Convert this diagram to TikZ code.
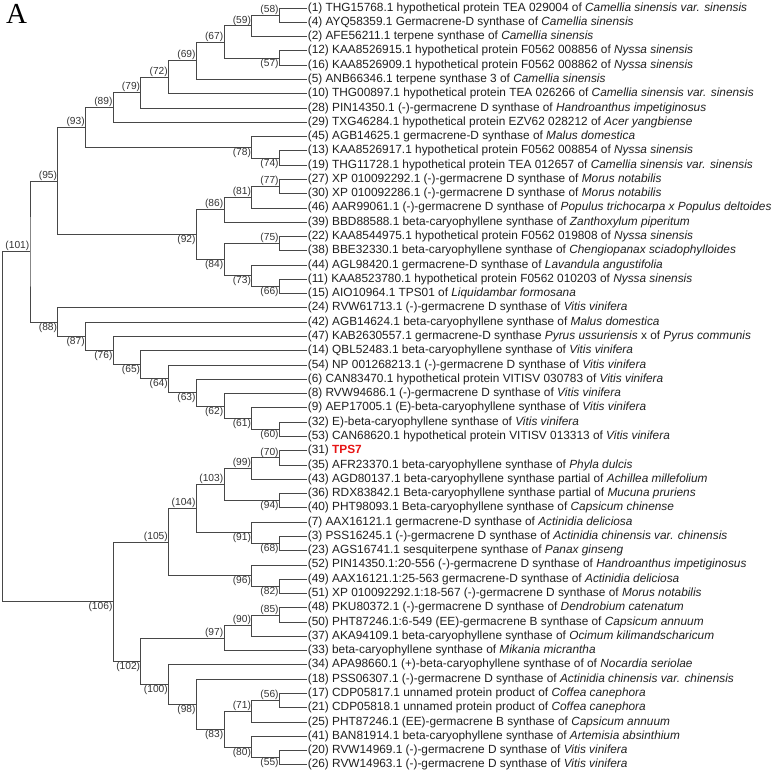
\documentclass[tikz,border=0pt]{standalone}
\usepackage{fontspec}
\setmainfont{Liberation Sans}
\newfontfamily\serifA{Liberation Serif}
\definecolor{tpsred}{RGB}{230,20,20}
\newcommand\clade[3]{\draw[br] (#2) -| (#1) |- (#3);}
\begin{document}
\begin{tikzpicture}[x=1pt,y=-14.28pt,
  br/.style={draw=black!72,line width=0.8pt},
  leaf/.style={anchor=west,inner sep=0.6pt,font=\fontsize{11.85}{14}\selectfont,text=black!88},
  bsu/.style={anchor=south east,inner sep=0.5pt,font=\fontsize{10.2}{12}\selectfont,text=black!80},
  bsl/.style={anchor=north east,inner sep=0.5pt,font=\fontsize{10.2}{12}\selectfont,text=black!80}]
\useasboundingbox (0,-0.5602) rectangle (783,53.711);
\node[anchor=north west,inner sep=0pt,font=\serifA\fontsize{29}{29}\selectfont] (A) at (6,-0.3) {A};
% leaves
\node[leaf] (l1) at (307,0) {(1) THG15768.1 hypothetical protein TEA 029004 of \textit{Camellia sinensis var. sinensis}};
\node[leaf] (l4) at (307,1) {(4) AYQ58359.1 Germacrene-D synthase of \textit{Camellia sinensis}};
\node[leaf] (l2) at (307,2) {(2) AFE56211.1 terpene synthase of \textit{Camellia sinensis}};
\node[leaf] (l12) at (307,3) {(12) KAA8526915.1 hypothetical protein F0562 008856 of \textit{Nyssa sinensis}};
\node[leaf] (l16) at (307,4) {(16) KAA8526909.1 hypothetical protein F0562 008862 of \textit{Nyssa sinensis}};
\node[leaf] (l5) at (307,5) {(5) ANB66346.1 terpene synthase 3 of \textit{Camellia sinensis}};
\node[leaf] (l10) at (307,6) {(10) THG00897.1 hypothetical protein TEA 026266 of \textit{Camellia sinensis var. sinensis}};
\node[leaf] (l28) at (307,7) {(28) PIN14350.1 (-)-germacrene D synthase of \textit{Handroanthus impetiginosus}};
\node[leaf] (l29) at (307,8) {(29) TXG46284.1 hypothetical protein EZV62 028212 of \textit{Acer yangbiense}};
\node[leaf] (l45) at (307,9) {(45) AGB14625.1 germacrene-D synthase of \textit{Malus domestica}};
\node[leaf] (l13) at (307,10) {(13) KAA8526917.1 hypothetical protein F0562 008854 of \textit{Nyssa sinensis}};
\node[leaf] (l19) at (307,11) {(19) THG11728.1 hypothetical protein TEA 012657 of \textit{Camellia sinensis var. sinensis}};
\node[leaf] (l27) at (307,12) {(27) XP 010092292.1 (-)-germacrene D synthase of \textit{Morus notabilis}};
\node[leaf] (l30) at (307,13) {(30) XP 010092286.1 (-)-germacrene D synthase of \textit{Morus notabilis}};
\node[leaf] (l46) at (307,14) {(46) AAR99061.1 (-)-germacrene D synthase of \textit{Populus trichocarpa x Populus deltoides}};
\node[leaf] (l39) at (307,15) {(39) BBD88588.1 beta-caryophyllene synthase of \textit{Zanthoxylum piperitum}};
\node[leaf] (l22) at (307,16) {(22) KAA8544975.1 hypothetical protein F0562 019808 of \textit{Nyssa sinensis}};
\node[leaf] (l38) at (307,17) {(38) BBE32330.1 beta-caryophyllene synthase of \textit{Chengiopanax sciadophylloides}};
\node[leaf] (l44) at (307,18) {(44) AGL98420.1 germacrene-D synthase of \textit{Lavandula angustifolia}};
\node[leaf] (l11) at (307,19) {(11) KAA8523780.1 hypothetical protein F0562 010203 of \textit{Nyssa sinensis}};
\node[leaf] (l15) at (307,20) {(15) AIO10964.1 TPS01 of \textit{Liquidambar formosana}};
\node[leaf] (l24) at (307,21) {(24) RVW61713.1 (-)-germacrene D synthase of \textit{Vitis vinifera}};
\node[leaf] (l42) at (307,22) {(42) AGB14624.1 beta-caryophyllene synthase of \textit{Malus domestica}};
\node[leaf] (l47) at (307,23) {(47) KAB2630557.1 germacrene-D synthase \textit{Pyrus ussuriensis} x of \textit{Pyrus communis}};
\node[leaf] (l14) at (307,24) {(14) QBL52483.1 beta-caryophyllene synthase of \textit{Vitis vinifera}};
\node[leaf] (l54) at (307,25) {(54) NP 001268213.1 (-)-germacrene D synthase of \textit{Vitis vinifera}};
\node[leaf] (l6) at (307,26) {(6) CAN83470.1 hypothetical protein VITISV 030783 of \textit{Vitis vinifera}};
\node[leaf] (l8) at (307,27) {(8) RVW94686.1 (-)-germacrene D synthase of \textit{Vitis vinifera}};
\node[leaf] (l9) at (307,28) {(9) AEP17005.1 (E)-beta-caryophyllene synthase of \textit{Vitis vinifera}};
\node[leaf] (l32) at (307,29) {(32) E)-beta-caryophyllene synthase of \textit{Vitis vinifera}};
\node[leaf] (l53) at (307,30) {(53) CAN68620.1 hypothetical protein VITISV 013313 of \textit{Vitis vinifera}};
\node[leaf] (l31) at (307,31) {(31) \textcolor{tpsred}{\textbf{TPS7}}};
\node[leaf] (l35) at (307,32) {(35) AFR23370.1 beta-caryophyllene synthase of \textit{Phyla dulcis}};
\node[leaf] (l43) at (307,33) {(43) AGD80137.1 beta-caryophyllene synthase partial of \textit{Achillea millefolium}};
\node[leaf] (l36) at (307,34) {(36) RDX83842.1 Beta-caryophyllene synthase partial of \textit{Mucuna pruriens}};
\node[leaf] (l40) at (307,35) {(40) PHT98093.1 Beta-caryophyllene synthase of \textit{Capsicum chinense}};
\node[leaf] (l7) at (307,36) {(7) AAX16121.1 germacrene-D synthase of \textit{Actinidia deliciosa}};
\node[leaf] (l3) at (307,37) {(3) PSS16245.1 (-)-germacrene D synthase of \textit{Actinidia chinensis var. chinensis}};
\node[leaf] (l23) at (307,38) {(23) AGS16741.1 sesquiterpene synthase of \textit{Panax ginseng}};
\node[leaf] (l52) at (307,39) {(52) PIN14350.1:20-556 (-)-germacrene D synthase of \textit{Handroanthus impetiginosus}};
\node[leaf] (l49) at (307,40) {(49) AAX16121.1:25-563 germacrene-D synthase of \textit{Actinidia deliciosa}};
\node[leaf] (l51) at (307,41) {(51) XP 010092292.1:18-567 (-)-germacrene D synthase of \textit{Morus notabilis}};
\node[leaf] (l48) at (307,42) {(48) PKU80372.1 (-)-germacrene D synthase of \textit{Dendrobium catenatum}};
\node[leaf] (l50) at (307,43) {(50) PHT87246.1:6-549 (EE)-germacrene B synthase of \textit{Capsicum annuum}};
\node[leaf] (l37) at (307,44) {(37) AKA94109.1 beta-caryophyllene synthase of \textit{Ocimum kilimandscharicum}};
\node[leaf] (l33) at (307,45) {(33) beta-caryophyllene synthase of \textit{Mikania micrantha}};
\node[leaf] (l34) at (307,46) {(34) APA98660.1 (+)-beta-caryophyllene synthase of of \textit{Nocardia seriolae}};
\node[leaf] (l18) at (307,47) {(18) PSS06307.1 (-)-germacrene D synthase of \textit{Actinidia chinensis var. chinensis}};
\node[leaf] (l17) at (307,48) {(17) CDP05817.1 unnamed protein product of \textit{Coffea canephora}};
\node[leaf] (l21) at (307,49) {(21) CDP05818.1 unnamed protein product of \textit{Coffea canephora}};
\node[leaf] (l25) at (307,50) {(25) PHT87246.1 (EE)-germacrene B synthase of \textit{Capsicum annuum}};
\node[leaf] (l41) at (307,51) {(41) BAN81914.1 beta-caryophyllene synthase of \textit{Artemisia absinthium}};
\node[leaf] (l20) at (307,52) {(20) RVW14969.1 (-)-germacrene D synthase of \textit{Vitis vinifera}};
\node[leaf] (l26) at (307,53) {(26) RVW14963.1 (-)-germacrene D synthase of \textit{Vitis vinifera}};
% internal nodes
\coordinate (n58) at (279.3,0.5);
\coordinate (n59) at (251.6,1.25);
\coordinate (n57) at (279.3,3.5);
\coordinate (n67) at (223.9,2.375);
\coordinate (n69) at (196.2,3.6875);
\coordinate (n72) at (168.5,4.84375);
\coordinate (n79) at (140.8,5.921875);
\coordinate (n89) at (113.1,6.9609);
\coordinate (n74) at (279.3,10.5);
\coordinate (n78) at (251.6,9.75);
\coordinate (n93) at (85.4,8.3555);
\coordinate (n77) at (279.3,12.5);
\coordinate (n81) at (251.6,13.25);
\coordinate (n86) at (223.9,14.125);
\coordinate (n75) at (279.3,16.5);
\coordinate (n66) at (279.3,19.5);
\coordinate (n73) at (251.6,18.75);
\coordinate (n84) at (223.9,17.625);
\coordinate (n92) at (196.2,15.875);
\coordinate (n95) at (57.7,12.1152);
\coordinate (n60) at (279.3,29.5);
\coordinate (n61) at (251.6,28.75);
\coordinate (n62) at (223.9,27.875);
\coordinate (n63) at (196.2,26.9375);
\coordinate (n64) at (168.5,25.96875);
\coordinate (n65) at (140.8,24.984375);
\coordinate (n76) at (113.1,23.9922);
\coordinate (n87) at (85.4,22.9961);
\coordinate (n88) at (57.7,21.998);
\coordinate (n101) at (30.0,17.0566);
\coordinate (n70) at (279.3,31.5);
\coordinate (n99) at (251.6,32.25);
\coordinate (n94) at (279.3,34.5);
\coordinate (n103) at (223.9,33.375);
\coordinate (n68) at (279.3,37.5);
\coordinate (n91) at (251.6,36.75);
\coordinate (n104) at (196.2,35.0625);
\coordinate (n82) at (279.3,40.5);
\coordinate (n96) at (251.6,39.75);
\coordinate (n105) at (168.5,37.40625);
\coordinate (n85) at (279.3,42.5);
\coordinate (n90) at (251.6,43.25);
\coordinate (n97) at (223.9,44.125);
\coordinate (n56) at (279.3,48.5);
\coordinate (n71) at (251.6,49.25);
\coordinate (n55) at (279.3,52.5);
\coordinate (n80) at (251.6,51.75);
\coordinate (n83) at (223.9,50.5);
\coordinate (n98) at (196.2,48.75);
\coordinate (n100) at (168.5,47.375);
\coordinate (n102) at (140.8,45.75);
\coordinate (n106) at (113.1,41.578);
\coordinate (root) at (2.3,29.317);
% branches
\clade{n58}{l1.west}{l4.west}
\clade{n59}{n58}{l2.west}
\clade{n57}{l12.west}{l16.west}
\clade{n67}{n59}{n57}
\clade{n69}{n67}{l5.west}
\clade{n72}{n69}{l10.west}
\clade{n79}{n72}{l28.west}
\clade{n89}{n79}{l29.west}
\clade{n74}{l13.west}{l19.west}
\clade{n78}{l45.west}{n74}
\clade{n93}{n89}{n78}
\clade{n77}{l27.west}{l30.west}
\clade{n81}{n77}{l46.west}
\clade{n86}{n81}{l39.west}
\clade{n75}{l22.west}{l38.west}
\clade{n66}{l11.west}{l15.west}
\clade{n73}{l44.west}{n66}
\clade{n84}{n75}{n73}
\clade{n92}{n86}{n84}
\clade{n95}{n93}{n92}
\clade{n60}{l32.west}{l53.west}
\clade{n61}{l9.west}{n60}
\clade{n62}{l8.west}{n61}
\clade{n63}{l6.west}{n62}
\clade{n64}{l54.west}{n63}
\clade{n65}{l14.west}{n64}
\clade{n76}{l47.west}{n65}
\clade{n87}{l42.west}{n76}
\clade{n88}{l24.west}{n87}
\clade{n101}{n95}{n88}
\clade{n70}{l31.west}{l35.west}
\clade{n99}{n70}{l43.west}
\clade{n94}{l36.west}{l40.west}
\clade{n103}{n99}{n94}
\clade{n68}{l3.west}{l23.west}
\clade{n91}{l7.west}{n68}
\clade{n104}{n103}{n91}
\clade{n82}{l49.west}{l51.west}
\clade{n96}{l52.west}{n82}
\clade{n105}{n104}{n96}
\clade{n85}{l48.west}{l50.west}
\clade{n90}{n85}{l37.west}
\clade{n97}{n90}{l33.west}
\clade{n56}{l17.west}{l21.west}
\clade{n71}{n56}{l25.west}
\clade{n55}{l20.west}{l26.west}
\clade{n80}{l41.west}{n55}
\clade{n83}{n71}{n80}
\clade{n98}{l18.west}{n83}
\clade{n100}{l34.west}{n98}
\clade{n102}{n97}{n100}
\clade{n106}{n105}{n102}
\clade{root}{n101}{n106}
% bootstrap labels
\foreach \n in {58,59,67,69,72,79,89,93,95,77,81,86,75,101,70,99,103,104,105,85,90,97,56,71}
  \node[bsu] (b\n) at (n\n) {(\n)};
\foreach \n in {57,74,78,92,84,73,66,88,87,76,65,64,63,62,61,60,94,91,68,96,82,106,102,100,98,83,80,55}
  \node[bsl] (b\n) at (n\n) {(\n)};
\end{tikzpicture}
\end{document}
